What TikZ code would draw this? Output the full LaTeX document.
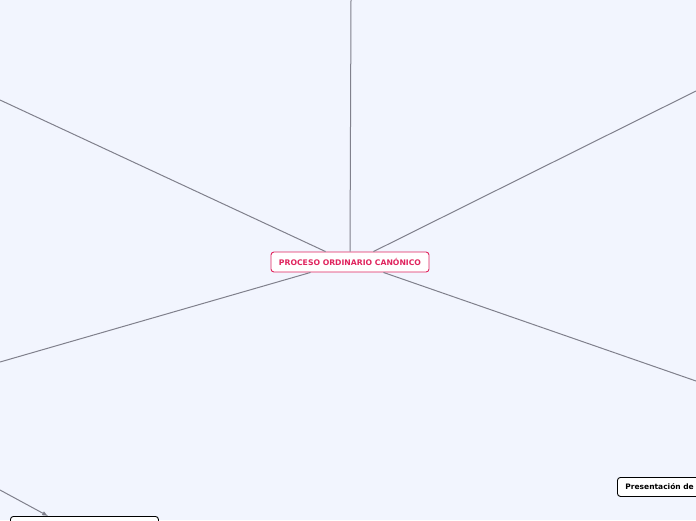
\documentclass[tikz,border=0pt]{standalone}
\usepackage{fontspec}
\setmainfont{DejaVu Sans}
\usetikzlibrary{arrows, calc}
\definecolor{bgblue}{HTML}{F2F5FE}
\definecolor{linkgray}{HTML}{80808C}
\definecolor{rootpink}{HTML}{E0245E}
\tikzset{
    my-root/.style={
        draw=rootpink, fill=white, rounded corners=3pt, line width=0.9pt,
        text=rootpink, font=\fontsize{7.7}{9}\selectfont\bfseries,
        minimum width=158pt, minimum height=20pt, inner sep=0pt
    },
    my-topic/.style={
        draw=black, fill=white, rounded corners=3pt, line width=0.9pt,
        font=\fontsize{7.5}{9}\selectfont\bfseries, inner sep=0pt
    },
    my-link/.style={
        draw=linkgray, line width=1pt
    },
}

\begin{document}
\begin{tikzpicture}[x=1pt, y=-1pt]

        % BACKGROUND AND CLIP
        \fill[bgblue] (0, 0) rectangle (696, 520);
        \useasboundingbox (0, 0) rectangle (696, 520);
        \clip (0, 0) rectangle (696, 520);

        % CENTRAL TOPIC
        \node[my-root] (ROOT) at (350, 262) {PROCESO ORDINARIO CANÓNICO};

        % BRANCH ENDS (OUTSIDE THE VIEW)
        \coordinate (TOP)    at (351, 0);
        \coordinate (UPLEFT) at (0, 100);
        \coordinate (UPRGT)  at (696, 91);
        \coordinate (LOLEFT) at (0, 362);
        \coordinate (LORGT)  at (696, 381);
        \coordinate (ARRIN)  at (0, 490);

        % SUBTOPICS
        \node[my-topic, minimum width=148pt, minimum height=22pt, anchor=north west]
            (SUBA) at (10, 516) {};
        \node[my-topic, minimum height=19pt, anchor=north west,
              inner xsep=8pt, text width=110pt, align=left]
            (SUBB) at (617, 477) {Presentación de demanda};

        % CONNECTIONS
        \draw[my-link] (ROOT.north) -- (TOP);
        \draw[my-link] ($(ROOT.north west) + (55, 0)$) -- (UPLEFT);
        \draw[my-link] ($(ROOT.north east) + (-56, 0)$) -- (UPRGT);
        \draw[my-link] ($(ROOT.south west) + (40, 0)$) -- (LOLEFT);
        \draw[my-link] ($(ROOT.south east) + (-46, 0)$) -- (LORGT);
        \draw[my-link, -latex] (ARRIN) -- ($(SUBA.north west) + (38, 0)$);

    \end{tikzpicture}
\end{document}
